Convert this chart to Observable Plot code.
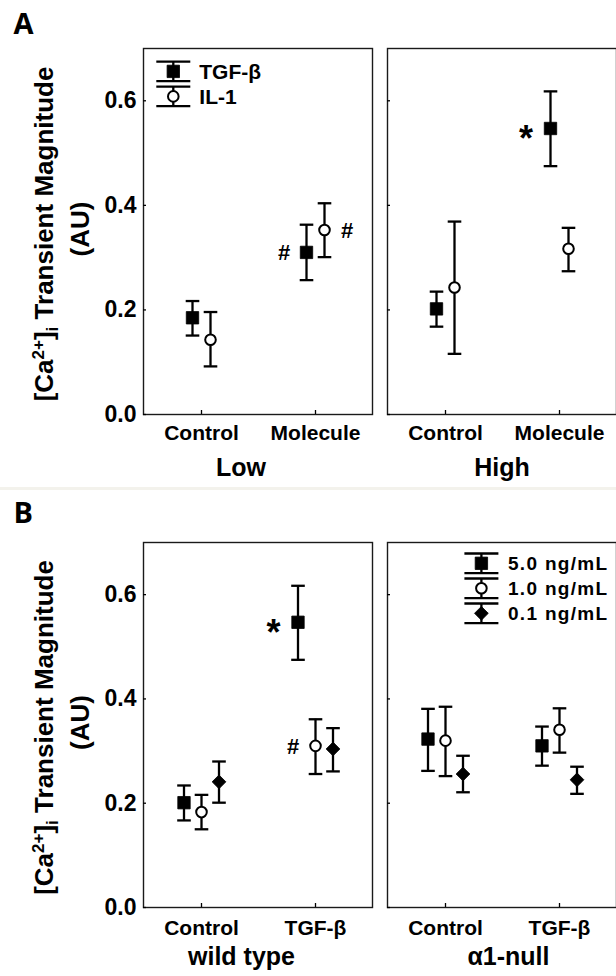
<!DOCTYPE html>
<html>
<head>
<meta charset="utf-8">
<script src="https://cdn.jsdelivr.net/npm/d3@7"></script>
<script src="https://cdn.jsdelivr.net/npm/@observablehq/plot@0.6"></script>
<style>
  html, body { margin: 0; padding: 0; background: #fff; overflow: hidden; width: 616px; height: 976px; }
  #A { position: absolute; left: 0; top: 0; width: 620px; }
  #B { position: absolute; left: 0; top: 487px; width: 620px; }
  #sep { position: absolute; left: 0; top: 486.5px; width: 616px; height: 3px; background: #f3f2ec; }
</style>
</head>
<body>
<div id="A"></div>
<div id="B"></div>
<div id="sep"></div>
<script>
// ---------- shared axis ----------
const yTicks = [0, 0.2, 0.4, 0.6];
const yDomain = [0, 0.7];

// ---------- Panel A ----------
const aGroupOrder = ["Low", "High"];
const aCategoryOrder = ["Control", "Molecule"];
const aGroups = ["Low", "Low", "High", "High"];
const aCategories = ["Control", "Molecule", "Control", "Molecule"];
const aTgfMean  = [0.185, 0.310, 0.202, 0.547];
const aTgfLower = [0.151, 0.257, 0.168, 0.475];
const aTgfUpper = [0.217, 0.363, 0.235, 0.618];
const aIl1Mean  = [0.143, 0.353, 0.243, 0.317];
const aIl1Lower = [0.092, 0.301, 0.116, 0.274];
const aIl1Upper = [0.196, 0.404, 0.369, 0.357];
const aTgfNotes = ["", "#", "", "*"];
const aIl1Notes = ["", "#", "", ""];

// ---------- Panel B ----------
const bGroupOrder = ["wild type", "α1-null"];
const bCategoryOrder = ["Control", "TGF-β"];
const bGroups = ["wild type", "wild type", "α1-null", "α1-null"];
const bCategories = ["Control", "TGF-β", "Control", "TGF-β"];
const b50Mean  = [0.201, 0.547, 0.323, 0.310];
const b50Lower = [0.167, 0.475, 0.262, 0.272];
const b50Upper = [0.234, 0.617, 0.381, 0.347];
const b10Mean  = [0.183, 0.310, 0.320, 0.341];
const b10Lower = [0.150, 0.256, 0.252, 0.297];
const b10Upper = [0.216, 0.361, 0.385, 0.382];
const b01Mean  = [0.241, 0.304, 0.256, 0.245];
const b01Lower = [0.201, 0.261, 0.221, 0.218];
const b01Upper = [0.280, 0.344, 0.291, 0.270];
const b50Notes = ["", "*", "", ""];
const b10Notes = ["", "#", "", ""];
const b01Notes = ["", "", "", ""];

// ---------- styles ----------
const FONT = "'Liberation Sans', Arial, Helvetica, sans-serif";
const symbolStyles = {
  square:   {symbol: "square",   r: 7,   fill: "#000", strokeWidth: 0.8},
  circle:   {symbol: "circle",   r: 5.3, fill: "#fff", strokeWidth: 2},
  diamond2: {symbol: "diamond2", r: 6.2, fill: "#000", strokeWidth: 0.8}
};
const d3Symbols = {square: d3.symbolSquare, circle: d3.symbolCircle, diamond2: d3.symbolDiamond2};
const noteGap = {"#": 22.5, "*": 24.5};
const capHalf = 6.8;
const barWidth = 2.3;
// horizontal error-bar cap drawn as a custom dot symbol (half-width = r)
const capSymbol = {
  draw(context, size) {
    const w = Math.sqrt(size / Math.PI);
    context.moveTo(-w, 0);
    context.lineTo(w, 0);
  }
};

function makePanel(cfg) {
  const marks = [Plot.frame({stroke: "#1a1a1a", strokeWidth: 1.4})];
  marks.push(
    Plot.axisY({ticks: yTicks, tickFormat: d3.format(".1f"), tickSize: 0, tickPadding: 7, fontSize: 23, label: null}),
    Plot.axisY({ticks: yTicks, tickSize: -3, fill: null, label: null, facetAnchor: null, strokeWidth: 1.3}),
    Plot.axisX({tickSize: 0, tickPadding: cfg.xLabelPad, fontSize: 21, label: null}),
    Plot.axisX({tickSize: -4, fill: null, label: null, strokeWidth: 1.3})
  );
  cfg.groupOrder.forEach((g, k) => {
    marks.push(Plot.text([{g}], {fx: "g", text: "g", frameAnchor: "bottom", lineAnchor: "top",
      dy: cfg.groupDy, dx: cfg.groupDx[k], fontSize: 25, fontWeight: "bold"}));
  });
  marks.push(Plot.text([{g: cfg.groupOrder[0], t: cfg.letter}], {fx: "g", text: "t", frameAnchor: "top-left",
    textAnchor: "start", lineAnchor: "top", dx: -130, dy: cfg.letterDy, fontSize: 29,
    fontFamily: "'Open Sans', 'DejaVu Sans', sans-serif", fontWeight: "bold"}));
  for (const s of cfg.series) {
    const st = symbolStyles[s.shape];
    const rows = cfg.groups.map((g, i) => ({
      group: g, category: cfg.categories[i], mean: s.mean[i], lower: s.lower[i], upper: s.upper[i], note: s.notes[i]
    }));
    const common = {fx: "group", x: "category", dx: s.offset};
    marks.push(
      Plot.ruleX(rows, {...common, y1: "lower", y2: "upper", stroke: "#000", strokeWidth: barWidth}),
      Plot.dot(rows, {...common, y: "upper", symbol: capSymbol, r: capHalf, fill: "none", stroke: "#000", strokeWidth: barWidth}),
      Plot.dot(rows, {...common, y: "lower", symbol: capSymbol, r: capHalf, fill: "none", stroke: "#000", strokeWidth: barWidth}),
      Plot.dot(rows, {...common, y: "mean", symbol: st.symbol, r: st.r, fill: st.fill, stroke: "#000", strokeWidth: st.strokeWidth})
    );
    for (const ch of ["#", "*"]) {
      const sel = rows.filter(d => d.note === ch);
      if (!sel.length) continue;
      marks.push(Plot.text(sel, {fx: "group", x: "category", y: "mean", text: "note",
        dx: s.offset + s.noteSide * noteGap[ch], dy: ch === "*" ? 11 : 1,
        fontSize: ch === "*" ? 36 : 22, fontWeight: "bold", fill: "#000"}));
    }
  }

  const plot = Plot.plot({
    width: 620,
    height: cfg.height,
    marginLeft: 142,
    marginRight: 3,
    marginTop: cfg.marginTop,
    marginBottom: cfg.marginBottom,
    fx: {domain: cfg.groupOrder, paddingInner: 0.0612, paddingOuter: 0, axis: null, label: null},
    x: {type: "point", domain: cfg.categoryOrder, padding: 0.5, label: null},
    y: {domain: yDomain, label: null},
    style: {fontFamily: FONT, fontWeight: "bold", color: "#000", background: "transparent", overflow: "visible"},
    marks
  });

  const svg = d3.select(plot);
  const ys = plot.scale("y");
  const cy = (ys.range[0] + ys.range[1]) / 2;
  const lab = svg.append("g").attr("font-family", FONT).attr("font-weight", "bold")
    .attr("fill", "#000").attr("text-anchor", "middle");
  const t1 = lab.append("text").attr("font-size", 26).attr("transform", `translate(53,${cy + 3}) rotate(-90)`);
  t1.append("tspan").text("[Ca");
  t1.append("tspan").attr("font-size", 17).attr("dy", -9).text("2+");
  t1.append("tspan").attr("dy", 9).text("]");
  t1.append("tspan").attr("font-size", 17).attr("dy", 5).text("i");
  t1.append("tspan").attr("dy", -5).text(" Transient Magnitude");
  lab.append("text").attr("font-size", 26).attr("transform", `translate(89,${cy - 2}) rotate(-90)`).text("(AU)");

  const fxs = plot.scale("fx");
  const left = fxs.apply(cfg.legend.group);
  const top = Math.min(...ys.range);
  const lg = svg.append("g").attr("font-family", FONT).attr("font-weight", "bold").attr("fill", "#000")
    .attr("text-anchor", "start");
  cfg.series.forEach((s, k) => {
    const st = symbolStyles[s.shape];
    const cx = left + cfg.legend.dx;
    const yy = top + cfg.legend.dy + k * cfg.legend.step;
    const h = 9.8, w = 17;
    lg.append("line").attr("x1", cx).attr("x2", cx).attr("y1", yy - h).attr("y2", yy + h)
      .attr("stroke", "#000").attr("stroke-width", barWidth);
    for (const e of [yy - h, yy + h]) {
      lg.append("line").attr("x1", cx - w).attr("x2", cx + w).attr("y1", e).attr("y2", e)
        .attr("stroke", "#000").attr("stroke-width", barWidth);
    }
    lg.append("path").attr("d", d3.symbol(d3Symbols[s.shape], Math.PI * st.r * st.r)())
      .attr("transform", `translate(${cx},${yy})`).attr("fill", st.fill).attr("stroke", "#000")
      .attr("stroke-width", st.strokeWidth);
    lg.append("text").attr("x", cx + cfg.legend.textGap).attr("y", yy).attr("dy", "0.35em")
      .attr("text-anchor", "start")
      .attr("font-size", cfg.legend.fontSize).attr("letter-spacing", cfg.legend.spacing)
      .text(s.name);
  });
  return plot;
}

const panelA = makePanel({
  letter: "A",
  letterDy: -35.5,
  groupOrder: aGroupOrder, categoryOrder: aCategoryOrder,
  groups: aGroups, categories: aCategories,
  height: 487, marginTop: 48, marginBottom: 73,
  xLabelPad: 11, groupDy: 43.5, groupDx: [-17, 0],
  series: [
    {name: "TGF-β", mean: aTgfMean, lower: aTgfLower, upper: aTgfUpper, notes: aTgfNotes, shape: "square", offset: -9, noteSide: -1},
    {name: "IL-1", mean: aIl1Mean, lower: aIl1Lower, upper: aIl1Upper, notes: aIl1Notes, shape: "circle", offset: 9, noteSide: 1}
  ],
  legend: {group: "Low", dx: 30.3, dy: 23.4, step: 25, textGap: 26, fontSize: 21, spacing: 0}
});
document.getElementById("A").appendChild(panelA);

const panelB = makePanel({
  letter: "B",
  letterDy: -40.5,
  groupOrder: bGroupOrder, categoryOrder: bCategoryOrder,
  groups: bGroups, categories: bCategories,
  height: 489, marginTop: 55, marginBottom: 69,
  xLabelPad: 12.8, groupDy: 40.2, groupDx: [-16.5, 6.5],
  series: [
    {name: "5.0 ng/mL", mean: b50Mean, lower: b50Lower, upper: b50Upper, notes: b50Notes, shape: "square", offset: -17.5, noteSide: -1},
    {name: "1.0 ng/mL", mean: b10Mean, lower: b10Lower, upper: b10Upper, notes: b10Notes, shape: "circle", offset: 0, noteSide: -1},
    {name: "0.1 ng/mL", mean: b01Mean, lower: b01Lower, upper: b01Upper, notes: b01Notes, shape: "diamond2", offset: 17.5, noteSide: -1}
  ],
  legend: {group: "α1-null", dx: 94.4, dy: 21.3, step: 25, textGap: 26.6, fontSize: 19, spacing: 1.3}
});
document.getElementById("B").appendChild(panelB);
</script>
</body>
</html>
